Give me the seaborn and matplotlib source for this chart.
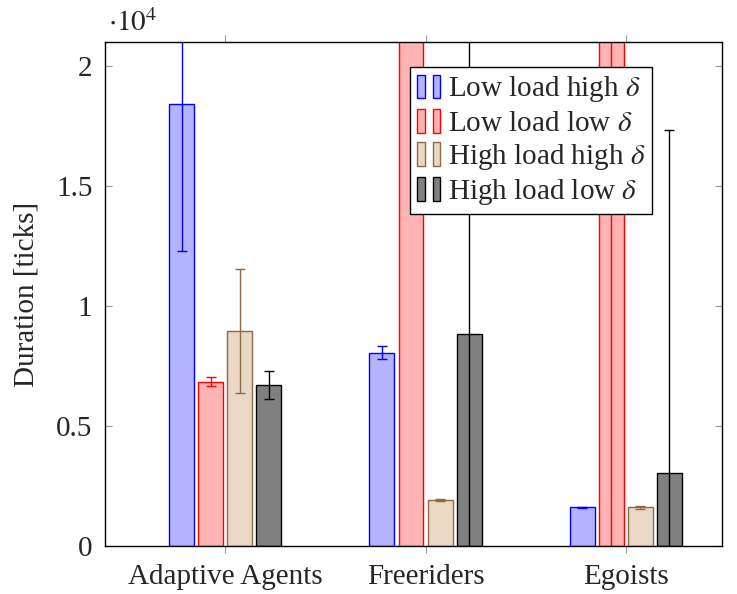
import matplotlib
matplotlib.use("Agg")
import matplotlib.pyplot as plt
import matplotlib.patches as mpatches
from matplotlib.legend_handler import HandlerTuple
import pandas as pd
import seaborn as sns

# data (duration in ticks), values above the top of the axis are clipped
groups = ["Adaptive Agents", "Freeriders", "Egoists"]
series = ["Low load high $\\delta$", "Low load low $\\delta$",
          "High load high $\\delta$", "High load low $\\delta$"]
low_high = [18400, 8050, 1610]
low_low = [6850, 25000, 25000]
high_high = [8950, 1920, 1610]
high_low = [6720, 8850, 3030]
err_low_high = [6100, 270, 20]
err_low_low = [200, 0, 26000]
err_high_high = [2590, 40, 50]
err_high_low = [575, 12500, 14300]

yticks = [0, 5000, 10000, 15000, 20000]
ytick_labels = ["0", "0.5", "1", "1.5", "2"]

fills = ["#b3b3ff", "#ffb3b3", "#ead8c4", "#808080"]
edges = ["#0000ff", "#ff0000", "#8c6a48", "#000000"]

values = [low_high, low_low, high_high, high_low]
errs = [err_low_high, err_low_low, err_high_high, err_high_low]

df = pd.DataFrame({
    "group": groups * 4,
    "series": [s for s in series for _ in groups],
    "value": low_high + low_low + high_high + high_low,
})

sns.set_style("ticks")
plt.rcParams["font.family"] = ["Liberation Serif", "DejaVu Serif"]
plt.rcParams["mathtext.fontset"] = "stix"
FS = 21

fig = plt.figure(figsize=(7.37, 5.94), dpi=100)
ax = fig.add_axes([105 / 737, 1 - 546 / 594, 617 / 737, 504 / 594])

sns.barplot(data=df, x="group", y="value", hue="series", order=groups,
            hue_order=series, palette=fills, width=0.58, gap=0.14,
            errorbar=None, ax=ax, saturation=1, legend=False)

for cont, ec, val, err in zip(ax.containers, edges, values, errs):
    xs = []
    for bar in cont:
        bar.set_edgecolor(ec)
        bar.set_linewidth(1.0)
        xs.append(bar.get_x() + bar.get_width() / 2)
    ax.errorbar(xs, val, yerr=err, fmt="none", ecolor=ec, elinewidth=1.0,
                capsize=3.3, capthick=1.0)

ax.set_xlim(-0.6, 2.48)
ax.set_ylim(0, 21000)
ax.set_yticks(yticks)
ax.set_yticklabels(ytick_labels)
ax.set_xlabel("")
ax.set_ylabel("Duration [ticks]", fontsize=FS, labelpad=12)
ax.tick_params(axis="x", direction="out", top=True, color="#999999",
               labelsize=FS, length=5, pad=8)
ax.tick_params(axis="y", direction="in", right=True, color="#999999",
               labelsize=FS, length=5, pad=9)
for sp in ax.spines.values():
    sp.set_visible(True)
    sp.set_color("black")
    sp.set_linewidth(1.0)

ax.text(0.005, 1.01, r"$\cdot 10^4$", transform=ax.transAxes, fontsize=FS,
        ha="left", va="bottom")

handles = []
for fc, ec in zip(fills, edges):
    p1 = mpatches.Rectangle((0, 0), 1, 1, facecolor=fc, edgecolor=ec, lw=1.0)
    p2 = mpatches.Rectangle((0, 0), 1, 1, facecolor=fc, edgecolor=ec, lw=1.0)
    handles.append((p1, p2))
leg = ax.legend(handles, series, loc="upper left",
                bbox_to_anchor=(0.494, 0.950), borderaxespad=0,
                handler_map={tuple: HandlerTuple(ndivide=None, pad=0.27)},
                handlelength=0.8, handleheight=0.85, handletextpad=0.25,
                labelspacing=0.17, fontsize=FS, fancybox=False,
                frameon=True, framealpha=1, edgecolor="black",
                borderpad=0.25)
leg.get_frame().set_linewidth(1.0)

fig.savefig("out.png", dpi=100)
